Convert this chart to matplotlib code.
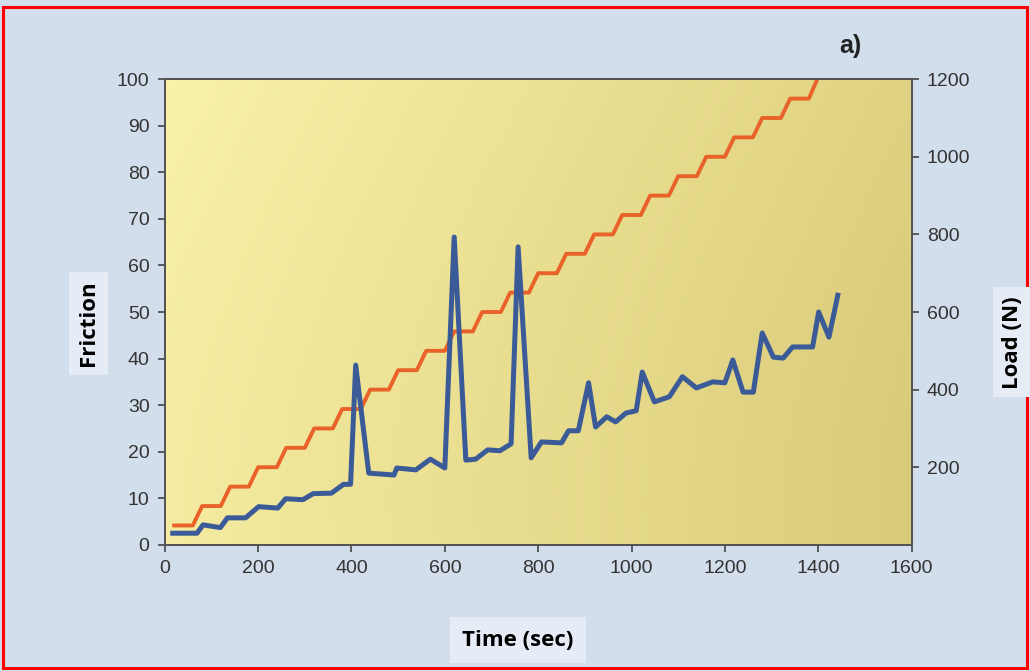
import numpy as np
import matplotlib.pyplot as plt
from matplotlib.patches import Rectangle

# load (N) staircase
load_t = [20, 60, 80, 120, 140, 180, 200, 240, 260, 300, 320, 360, 380, 420,
          440, 480, 500, 540, 560, 600, 620, 660, 680, 720, 740, 780, 800, 840,
          860, 900, 920, 960, 980, 1020, 1040, 1080, 1100, 1140, 1160, 1200,
          1220, 1260, 1280, 1320, 1340, 1380, 1398]
load_n = [50, 50, 100, 100, 150, 150, 200, 200, 250, 250, 300, 300, 350, 350,
          400, 400, 450, 450, 500, 500, 550, 550, 600, 600, 650, 650, 700, 700,
          750, 750, 800, 800, 850, 850, 900, 900, 950, 950, 1000, 1000,
          1050, 1050, 1100, 1100, 1150, 1150, 1200]

# friction
fric_t = [17, 69, 82, 119, 134, 173, 201, 242, 259, 296, 318, 357, 383, 398,
          409, 437, 491, 497, 538, 569, 600, 620, 645, 666, 692, 718, 742, 757,
          785, 807, 850, 865, 886, 908, 923, 947, 966, 988, 1010, 1023, 1049,
          1081, 1109, 1139, 1174, 1200, 1217, 1239, 1261, 1280, 1304, 1325,
          1345, 1388, 1401, 1423, 1442]
fric_v = [2.5, 2.5, 4.3, 3.7, 5.8, 5.8, 8.2, 7.9, 9.9, 9.7, 11.0, 11.1, 13.0, 13.0,
          38.6, 15.4, 15.0, 16.5, 16.1, 18.4, 16.5, 66.1, 18.2, 18.4, 20.4, 20.2,
          21.7, 64.0, 18.7, 22.1, 21.9, 24.5, 24.5, 34.8, 25.3, 27.5, 26.4, 28.3,
          28.8, 37.1, 30.7, 31.8, 36.1, 33.7, 35.0, 34.8, 39.7, 32.8, 32.8, 45.5,
          40.3, 40.1, 42.5, 42.5, 50.0, 44.6, 53.6]

x_ticks = [0, 200, 400, 600, 800, 1000, 1200, 1400, 1600]
fric_ticks = [0, 10, 20, 30, 40, 50, 60, 70, 80, 90, 100]
load_ticks = [200, 400, 600, 800, 1000, 1200]

fig = plt.figure(figsize=(10.30, 6.71), dpi=100)
fig.patch.set_facecolor('#d3deec')

ax = fig.add_axes([0.160, 0.188, 0.725, 0.694])
ax2 = ax.twinx()
ax.set_zorder(ax2.get_zorder() + 1)
ax.patch.set_visible(False)

# yellow paper gradient behind the plot (drawn on the lower axes)
gx = np.linspace(0, 1, 200)
gy = np.linspace(0, 1, 120)
GX, GY = np.meshgrid(gx, gy)
shade = np.clip(0.8 * GX + 0.25 * (1 - GY) - 0.1 * (1 - GY) ** 3, 0, 1)
light = np.array([0.98, 0.95, 0.66])
dark = np.array([0.85, 0.79, 0.47])
img = light[None, None, :] * (1 - shade[..., None]) + dark[None, None, :] * shade[..., None]
ax2.imshow(img, extent=[0, 1, 0, 1], transform=ax2.transAxes, aspect='auto',
           origin='lower', zorder=0)

ax2.plot(load_t, load_n, color='#e8622a', lw=2.8, zorder=3)
ax.plot(fric_t, fric_v, color='#3b5a98', lw=3.6, zorder=4)

ax.set_xlim(0, 1600)
ax.set_ylim(0, 100)
ax2.set_ylim(0, 1200)
ax.set_xticks(x_ticks)
ax.set_yticks(fric_ticks)
ax2.set_yticks(load_ticks)

for a in (ax, ax2):
    a.tick_params(colors='#444444', labelcolor='#333333', direction='out',
                  length=5, width=1.2, labelsize=14, pad=6)
    for lab in a.get_xticklabels() + a.get_yticklabels():
        lab.set_fontfamily('Liberation Sans')
    for s in a.spines.values():
        s.set_color('#555555')
        s.set_linewidth(1.4)

box = dict(boxstyle='square,pad=0.4', facecolor='#e6ecf5', edgecolor='none')
lab_font = ['Open Sans', 'DejaVu Sans']
fig.text(0.086, 0.518, 'Friction', rotation=90, ha='center', va='center',
         fontsize=16, fontweight='bold', family=lab_font, bbox=box)
fig.text(0.983, 0.49, 'Load (N)', rotation=90, ha='center', va='center',
         fontsize=16, fontweight='bold', family=lab_font, bbox=box)
fig.text(0.503, 0.046, 'Time (sec)', ha='center', va='center',
         fontsize=16, fontweight='bold', family=lab_font, bbox=dict(
             boxstyle='square,pad=0.55', facecolor='#e6ecf5', edgecolor='none'))
fig.text(0.826, 0.932, 'a)', ha='center', va='center', fontsize=18,
         fontweight='bold', family='Liberation Sans', color='#222222')

fig.patches.append(Rectangle((0.003, 0.004), 0.994, 0.985, transform=fig.transFigure,
                             fill=False, edgecolor='#ff0000', lw=2.2))

fig.savefig('out.png', dpi=100, facecolor=fig.get_facecolor())
